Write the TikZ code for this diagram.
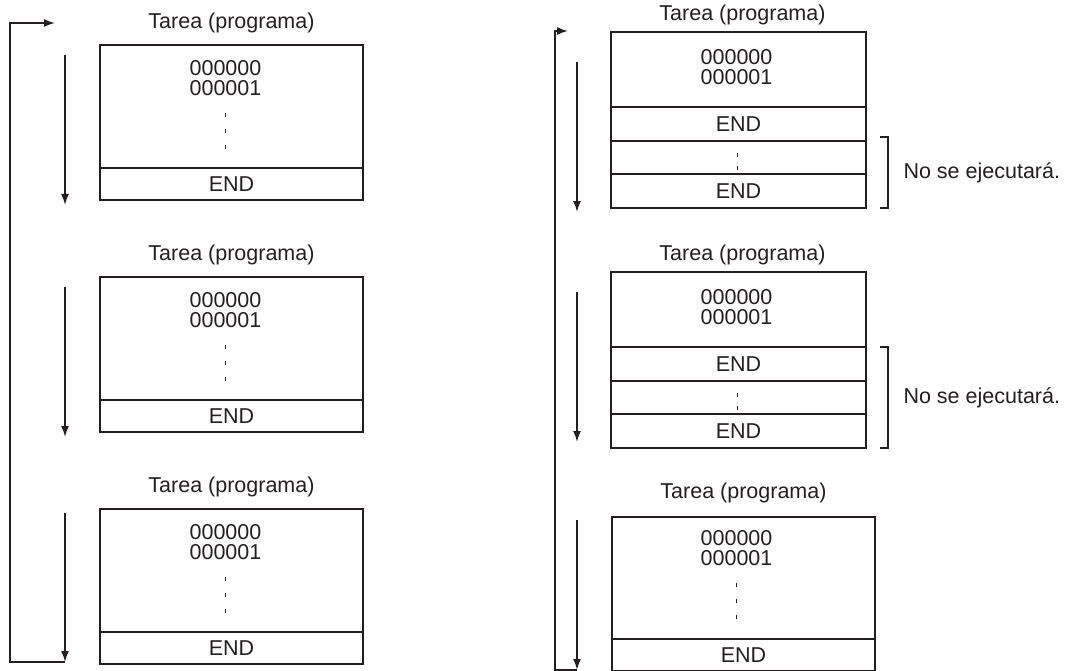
\documentclass[tikz,border=0pt]{standalone}
\usepackage{fontspec}
\setmainfont{Liberation Sans}
\usepackage{tikz}
\usetikzlibrary{arrows.meta,positioning}

\definecolor{ink}{HTML}{231F20}
\newcommand{\prgfont}{\fontsize{21.5}{20}\selectfont}

\begin{document}
\begin{tikzpicture}[x=1pt, y=-1pt, every node/.style={font=\prgfont, text=ink}, >={Latex[length=11pt,width=8pt]},
	row/.style={draw=ink, line width=2.2pt, outer sep=0pt, inner sep=0pt, anchor=north},
	lrow/.style={row, minimum width=263pt},
	rrow/.style={row, minimum width=255pt},
	code/.style={align=center},
	dots/.style={draw=ink, line width=1.3pt, dash pattern=on 4pt off 12pt},
	flow/.style={draw=ink, line width=1.7pt, ->},
	brace/.style={draw=ink, line width=1.7pt},
	note/.style={anchor=west}]
	\useasboundingbox (0,0) rectangle (1078,671);

	% left column: every task runs up to its END
	\node[lrow, minimum height=123pt] (bodyA) at (231.5,45) {};
	\node[lrow, minimum height=32pt, below=0pt of bodyA] (endA) {END};
	\node at ([yshift=22pt]bodyA.north) (titleA) {Tarea (programa)};
	\node[code] (codeA) at ([xshift=-6pt,yshift=-33pt]bodyA.north) {000000\\000001};
	\draw[dots] ([xshift=-6pt,yshift=-68pt]bodyA.north) -- ([xshift=-6pt,yshift=-104pt]bodyA.north);

	\node[lrow, minimum height=123pt] (bodyB) at (231.5,277) {};
	\node[lrow, minimum height=32pt, below=0pt of bodyB] (endB) {END};
	\node at ([yshift=22pt]bodyB.north) (titleB) {Tarea (programa)};
	\node[code] (codeB) at ([xshift=-6pt,yshift=-33pt]bodyB.north) {000000\\000001};
	\draw[dots] ([xshift=-6pt,yshift=-68pt]bodyB.north) -- ([xshift=-6pt,yshift=-104pt]bodyB.north);

	\node[lrow, minimum height=123pt] (bodyC) at (231.5,509) {};
	\node[lrow, minimum height=32pt, below=0pt of bodyC] (endC) {END};
	\node at ([yshift=22pt]bodyC.north) (titleC) {Tarea (programa)};
	\node[code] (codeC) at ([xshift=-6pt,yshift=-33pt]bodyC.north) {000000\\000001};
	\draw[dots] ([xshift=-6pt,yshift=-68pt]bodyC.north) -- ([xshift=-6pt,yshift=-104pt]bodyC.north);

	\coordinate (a1s) at (65,55);  \coordinate (a1e) at (65,205);
	\coordinate (a2s) at (65,287); \coordinate (a2e) at (65,437);
	\coordinate (a3s) at (65,513); \coordinate (a3e) at (65,662);
	\coordinate (loopL) at (10,662); \coordinate (entryL) at (55,23);
	\draw[flow] (a1s) -- (a1e);
	\draw[flow] (a2s) -- (a2e);
	\draw[flow] (a3s) -- (a3e);
	\draw[flow] (a3e) -- (loopL) |- (entryL);

	% right column: the first END stops the task
	\node[rrow, minimum height=75pt] (bodyD) at (738.5,32) {};
	\node[rrow, minimum height=34pt, below=0pt of bodyD] (endD1) {END};
	\node[rrow, minimum height=33pt, below=0pt of endD1] (skipD) {};
	\node[rrow, minimum height=34pt, below=0pt of skipD] (endD2) {END};
	\node at ([xshift=4pt,yshift=17pt]bodyD.north) (titleD) {Tarea (programa)};
	\node[code] (codeD) at ([xshift=-2pt,yshift=-35pt]bodyD.north) {000000\\000001};
	\draw[dots, dash pattern=on 4pt off 9pt] ([xshift=-1pt,yshift=-12pt]skipD.north) -- ([xshift=-1pt,yshift=-29pt]skipD.north);
	\draw[brace] ([xshift=14pt,yshift=4pt]skipD.north east) -- ++(8,0) |- ([xshift=14pt]endD2.south east);
	\node[note] (noteD) at (900,173) {No se ejecutará.};

	\node[rrow, minimum height=75pt] (bodyE) at (738.5,272) {};
	\node[rrow, minimum height=34pt, below=0pt of bodyE] (endE1) {END};
	\node[rrow, minimum height=33pt, below=0pt of endE1] (skipE) {};
	\node[rrow, minimum height=34pt, below=0pt of skipE] (endE2) {END};
	\node at ([xshift=4pt,yshift=17pt]bodyE.north) (titleE) {Tarea (programa)};
	\node[code] (codeE) at ([xshift=-2pt,yshift=-35pt]bodyE.north) {000000\\000001};
	\draw[dots, dash pattern=on 4pt off 9pt] ([xshift=-1pt,yshift=-12pt]skipE.north) -- ([xshift=-1pt,yshift=-29pt]skipE.north);
	\draw[brace] ([xshift=14pt]endE1.north east) -- ++(8,0) |- ([xshift=14pt]endE2.south east);
	\node[note] (noteE) at (900,398) {No se ejecutará.};

	\node[lrow, minimum height=122pt] (bodyF) at (743.5,517) {};
	\node[lrow, minimum height=32pt, below=0pt of bodyF] (endF) {END};
	\node at ([yshift=24pt]bodyF.north) (titleF) {Tarea (programa)};
	\node[code] (codeF) at ([xshift=-7pt,yshift=-31pt]bodyF.north) {000000\\000001};
	\draw[dots] ([xshift=-7pt,yshift=-66pt]bodyF.north) -- ([xshift=-7pt,yshift=-102pt]bodyF.north);

	\coordinate (a4s) at (577,62);  \coordinate (a4e) at (577,212);
	\coordinate (a5s) at (577,292); \coordinate (a5e) at (577,442);
	\coordinate (a6s) at (577,520); \coordinate (a6e) at (577,670);
	\coordinate (loopR) at (555,670); \coordinate (entryR) at (568,31);
	\draw[flow] (a4s) -- (a4e);
	\draw[flow] (a5s) -- (a5e);
	\draw[flow] (a6s) -- (a6e);
	\draw[flow] (a6e) -- (loopR) |- (entryR);
\end{tikzpicture}
\end{document}
